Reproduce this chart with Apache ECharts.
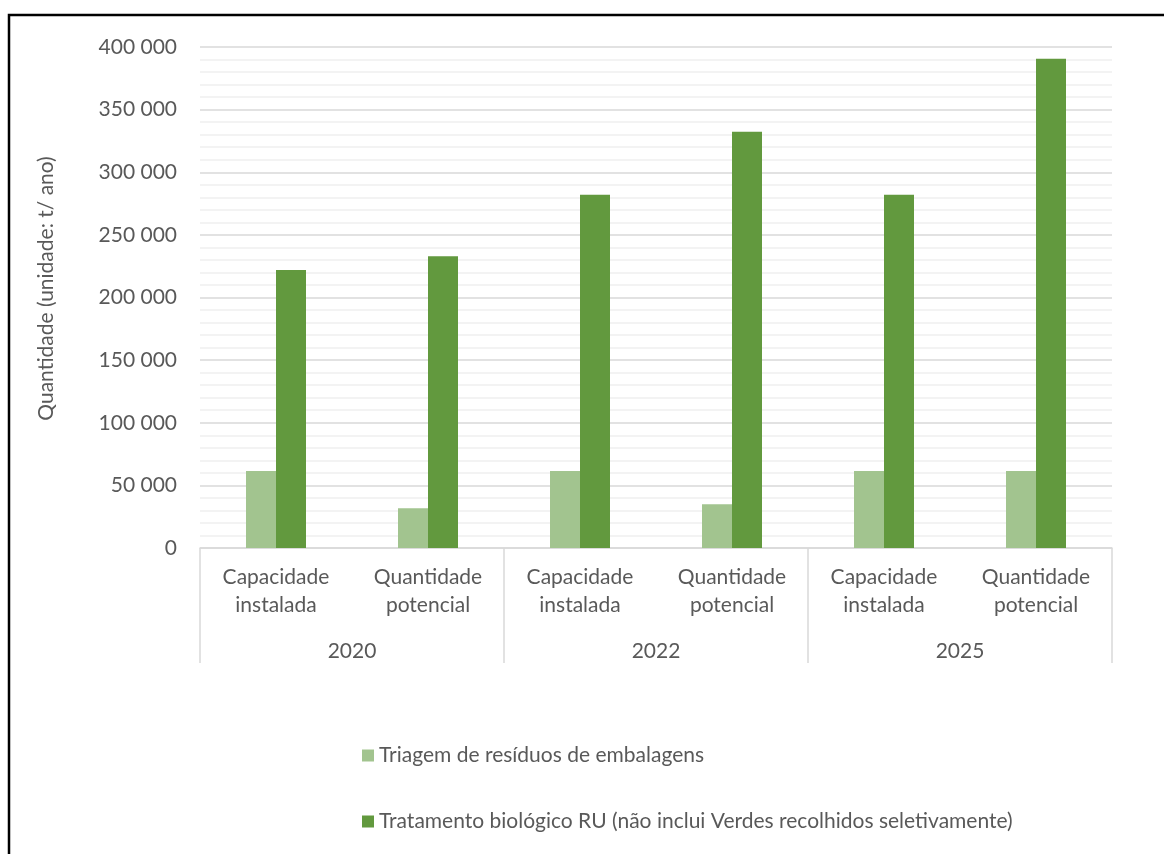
<!DOCTYPE html>
<html>
<head>
<meta charset="utf-8">
<script src="https://cdn.jsdelivr.net/npm/echarts@6/dist/echarts.min.js"></script>
<style>
  html, body { margin: 0; padding: 0; background: #fff; }
  #chart { width: 1164px; height: 854px; }
</style>
</head>
<body>
<div id="chart"></div>
<script>
// Data
const subCategories = ['Capacidade\ninstalada', 'Quantidade\npotencial', 'Capacidade\ninstalada', 'Quantidade\npotencial', 'Capacidade\ninstalada', 'Quantidade\npotencial'];
const years = ['2020', '2022', '2025'];
const seriesNames = ['Triagem de resíduos de embalagens', 'Tratamento biológico RU (não inclui Verdes recolhidos seletivamente)'];
const triagem = [61500, 31700, 61500, 34900, 61500, 61500];
const tratamento = [222000, 233000, 282000, 332300, 282000, 390600];
const yTicks = [0, 50000, 100000, 150000, 200000, 250000, 300000, 350000, 400000];
const yAxisTitle = 'Quantidade (unidade: t/ ano)';

const FONT = 'Lato, "Open Sans", sans-serif';
const FS = 21;
const TXT = '#595959';

const chart = echarts.init(document.getElementById('chart'), null, { renderer: 'canvas' });

function fmt(v) {
  return String(v).replace(/\B(?=(\d{3})+(?!\d))/g, ' ');
}

chart.setOption({
  animation: false,
  backgroundColor: '#ffffff',
  textStyle: { fontFamily: FONT },
  grid: { left: 200, right: 52, top: 47, bottom: 306, containLabel: false },
  legend: {
    orient: 'vertical',
    left: 357,
    top: 740,
    itemWidth: 12,
    itemHeight: 12,
    itemGap: 45,
    icon: 'rect',
    textStyle: { fontFamily: FONT, fontSize: FS, color: TXT },
    data: seriesNames
  },
  xAxis: [
    {
      type: 'category',
      data: subCategories,
      axisLine: { show: true, lineStyle: { color: '#d9d9d9', width: 1.5 } },
      axisTick: { show: false },
      axisLabel: { fontFamily: FONT, fontSize: FS, color: TXT, lineHeight: 28, margin: 15, interval: 0 }
    },
    {
      type: 'category',
      data: years,
      position: 'bottom',
      axisLine: { show: false },
      axisTick: { show: true, length: 115, lineStyle: { color: '#d9d9d9', width: 1.5 } },
      axisLabel: { fontFamily: FONT, fontSize: FS, color: TXT, margin: 93, interval: 0 }
    }
  ],
  yAxis: {
    type: 'value',
    min: yTicks[0],
    max: yTicks[yTicks.length - 1],
    interval: 50000,
    name: yAxisTitle,
    nameLocation: 'middle',
    nameGap: 143,
    nameTextStyle: { fontFamily: FONT, fontSize: FS, color: TXT, padding: [0, 0, 0, 18] },
    axisLine: { show: false },
    axisTick: { show: false },
    axisLabel: { fontFamily: FONT, fontSize: FS, color: TXT, margin: 23, formatter: fmt },
    splitLine: { show: true, lineStyle: { color: '#d9d9d9', width: 1.5 } },
    minorTick: { show: false, splitNumber: 5 },
    minorSplitLine: { show: true, lineStyle: { color: '#f0f0f0', width: 1.5 } }
  },
  series: [
    {
      name: seriesNames[0],
      type: 'bar',
      xAxisIndex: 0,
      data: triagem,
      barWidth: 30,
      barGap: '0%',
      itemStyle: { color: '#a2c48f' }
    },
    {
      name: seriesNames[1],
      type: 'bar',
      xAxisIndex: 0,
      data: tratamento,
      barWidth: 30,
      barGap: '0%',
      itemStyle: { color: '#62993e' }
    }
  ],
  graphic: [
    {
      type: 'polyline',
      shape: { points: [[9, 854], [9, 15], [1164, 15]] },
      style: { stroke: '#000', lineWidth: 2.5, fill: null },
      silent: true
    }
  ]
});
</script>
</body>
</html>
